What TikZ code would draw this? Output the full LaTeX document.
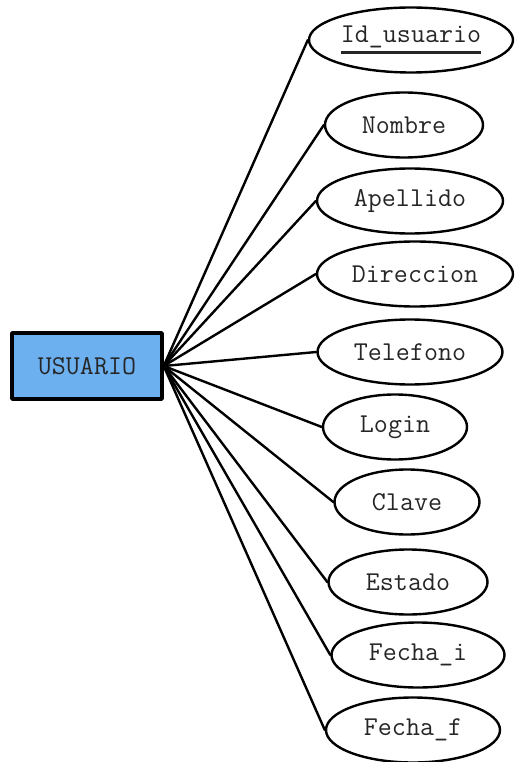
\documentclass[tikz,border=0pt]{standalone}
\usepackage{fontspec}
\usetikzlibrary{shapes.geometric}
\definecolor{azulent}{RGB}{108,176,240}
\newcommand{\llaveattr}[1]{\setbox0\hbox{#1}\rlap{\copy0}\rule[-11pt]{\wd0}{2.6pt}}
\begin{document}
\begin{tikzpicture}[x=1pt,y=-1pt,line join=round,line cap=round,
	font=\ttfamily\fontsize{27.2}{30}\selectfont,
	entidad/.style={draw,line width=3.4pt,fill=azulent,minimum width=150pt,minimum height=66pt,inner sep=0pt,text=black!85},
	atrib/.style={draw,ellipse,line width=2.4pt,fill=white,minimum height=65pt,inner sep=0pt,text=black!85},
	enlace/.style={line width=2.4pt}]
	\useasboundingbox (0,0) rectangle (514,762);
	\node[entidad] (usuario) at (87,366) {USUARIO};
	\node[atrib,minimum width=204pt] (id) at (411,40) {\llaveattr{Id\_usuario}};
	\foreach \n/\x/\y/\w/\t in {nombre/404/125/158/Nombre,apellido/410/201/186/Apellido,
		direccion/415/274/196/Direccion,telefono/410/352/185/Telefono,login/395/427/144/Login,
		clave/407/502/145/Clave,estado/408/582/159/Estado,fechai/418/655/173/Fecha\_i,
		fechaf/413/730/174/Fecha\_f}
		\node[atrib,minimum width=\w pt] (\n) at (\x,\y) {\t};
	\foreach \n in {id,nombre,apellido,direccion,telefono,login,clave,estado,fechai,fechaf}
		\draw[enlace] (usuario.east) -- (\n.west);
\end{tikzpicture}
\end{document}
